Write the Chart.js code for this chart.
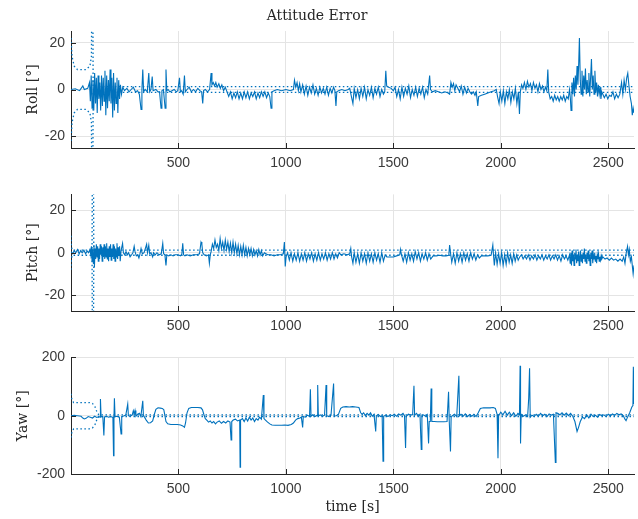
<!DOCTYPE html>
<html>
<head>
<meta charset="utf-8">
<script src="https://cdn.jsdelivr.net/npm/chart.js@4.4.1/dist/chart.umd.min.js"></script>
<style>
  html, body { margin: 0; padding: 0; background: #fff; }
  body { width: 638px; height: 519px; position: relative; overflow: hidden; }
  .panel { position: absolute; left: 0; width: 638px; }
</style>
</head>
<body>
<div class="panel" style="top:0;height:170px"><canvas id="rollChart" width="638" height="170"></canvas></div>
<div class="panel" style="top:180px;height:153px"><canvas id="pitchChart" width="638" height="153"></canvas></div>
<div class="panel" style="top:343px;height:176px"><canvas id="yawChart" width="638" height="176"></canvas></div>
<script>
// tick labels
const timeTicks = [500, 1000, 1500, 2000, 2500];
const rollTicks = [-20, 0, 20];
const pitchTicks = [-20, 0, 20];
const yawTicks = [-200, 0, 200];

// [time s, error deg]
const rollError = [[0,0],[20,0.3],[40,-0.5],[55,1.5],[62,0],[78,0.5],[86,3],[90,-5],[94,6],[98,-8],[102,4],[106,-9],[110,7],[114,-6],[118,5],[122,-10],[126,6],[130,-4],[134,3],[138,-9],[142,6],[146,-7],[150,5],[154,-5],[158,8],[162,-11],[166,6],[170,-8],[174,4],[178,-5],[182,8.5],[186,-6],[190,5],[194,-12],[198,7],[202,-9],[206,3],[210,-6],[214,5],[218,-10],[222,4],[226,-4],[230,2],[235,-2],[241,1],[249,-0.5],[260,0.5],[270,-1],[280,0],[290,1],[300,-1],[310,-0.5],[318,-2],[326,-8.5],[330,0],[334,8.5],[338,-1],[345,0],[355,-1],[362,7],[366,-1],[372,0],[378,5.5],[382,-0.5],[395,0],[405,-1],[412,-1],[419,-8],[423,-0.5],[430,0],[438,-8],[442,8.5],[446,-0.5],[452,0],[460,-1],[470,-0.5],[480,0],[490,-1],[497,-0.5],[505,5],[509,-1],[515,-0.5],[522,-2],[528,6],[532,-1],[540,0],[550,1],[560,-1],[570,0],[580,-1],[590,0.5],[600,-0.5],[608,-1],[613,-6],[617,-0.5],[625,0],[635,-1],[645,0],[652,7],[656,2],[662,3],[668,1.5],[674,3],[680,1],[688,2.5],[695,0.5],[702,2],[710,-0.5],[718,1],[726,-1],[734,-3],[742,-1],[750,-4],[758,-1.5],[766,-3.5],[774,-1],[782,-4],[790,-1.5],[798,-4],[806,-1],[814,-3.5],[822,-1],[830,-4],[838,-1.5],[846,-3],[854,-1],[862,-4],[870,-1.5],[878,-3.5],[886,-1],[894,-3],[902,-1],[910,-3.5],[918,-1.5],[925,-3],[931,-8],[935,-1],[945,-0.5],[960,0],[980,-0.5],[1000,0],[1020,-0.5],[1035,0],[1040,4],[1046,1],[1052,3],[1058,-0.5],[1064,2.5],[1070,-1],[1078,2],[1086,-2],[1094,1.5],[1102,-2.5],[1110,1],[1118,-1.5],[1126,2],[1134,-2],[1142,0.5],[1150,-2.5],[1158,1],[1166,-1.5],[1174,0.5],[1182,-2],[1190,1],[1198,-2.5],[1206,0.5],[1214,-1.5],[1222,1],[1228,-0.5],[1233,-7],[1237,-1],[1245,-0.5],[1260,0],[1275,-0.5],[1290,0],[1297,0.5],[1305,-3],[1312,-6],[1318,0.5],[1326,-3.5],[1334,0],[1342,-4],[1350,0.5],[1358,-3],[1366,1],[1374,-4],[1382,0],[1390,-2.5],[1398,1],[1406,-3.5],[1414,0.5],[1422,-2],[1430,1],[1438,-3],[1446,0],[1454,-2],[1460,-1],[1465,8],[1469,1.5],[1478,1],[1490,0.5],[1500,-0.5],[1508,1],[1516,-3],[1524,0],[1532,-4],[1540,1],[1548,-3],[1556,0.5],[1564,-2],[1572,1.5],[1580,-3.5],[1588,0],[1596,-2.5],[1604,1],[1612,-3],[1620,0.5],[1628,-2],[1636,1],[1644,-3.5],[1652,0],[1660,-2],[1669,6],[1673,0],[1682,-1],[1695,-0.5],[1710,-1],[1725,-1.5],[1740,-1],[1755,-1.5],[1762,-2],[1768,3],[1774,1],[1780,2.5],[1786,-0.5],[1792,2],[1800,0.5],[1808,-1],[1816,1.5],[1824,-2],[1832,1],[1840,-1.5],[1848,0.5],[1856,-1],[1864,-2],[1872,-1],[1880,-2.5],[1886,-1],[1893,-7],[1897,-3],[1910,-2.5],[1925,-2],[1940,-1.5],[1955,-1],[1970,-0.5],[1979,0],[1985,-3],[1992,-6],[1998,-1],[2005,-5],[2012,-0.5],[2019,-6],[2026,-1],[2033,-4],[2040,0],[2047,-5.5],[2054,-1],[2061,-4],[2068,0.5],[2075,-6],[2082,-1],[2087,-10.5],[2091,-1],[2097,2],[2103,0.5],[2110,3],[2117,0],[2124,3.5],[2131,1],[2138,2.5],[2145,-0.5],[2152,3],[2159,0.5],[2166,2],[2173,-1],[2180,2.5],[2187,0],[2194,1.5],[2201,-1],[2208,1],[2214,-0.5],[2219,8.5],[2223,-1],[2230,-4],[2237,-3],[2244,-5],[2251,-2.5],[2258,-4.5],[2265,-3],[2272,-5],[2279,-3],[2286,-4.5],[2293,-2.5],[2300,-5],[2307,-3],[2314,-4],[2320,0],[2324,-4],[2327,-9],[2331,3],[2335,-2],[2339,5],[2343,-3],[2347,6],[2351,0],[2355,10],[2359,2],[2363,12],[2366,22],[2370,4],[2374,-2],[2378,8],[2382,-3],[2386,6],[2390,0],[2394,9],[2398,-2],[2402,4],[2406,-1],[2410,7],[2414,-3],[2418,5],[2422,13],[2426,0],[2430,6],[2434,-2],[2438,8],[2442,-1],[2446,3],[2450,-3],[2454,2],[2458,-2],[2462,1],[2466,-4],[2470,-1],[2475,-2],[2482,-3.5],[2490,-2],[2498,-4],[2506,-2.5],[2514,-3],[2522,-1],[2530,-4],[2538,-2],[2546,-3.5],[2554,-2],[2562,3],[2568,-2],[2574,4],[2580,0],[2586,5],[2591,7],[2596,2],[2602,-3],[2608,-6],[2612,-11],[2616,-8],[2620,-10]];

const pitchError = [[0,0.5],[8,-0.5],[15,1],[22,0],[30,1.5],[38,-0.5],[45,1],[52,0],[60,1.2],[68,-0.5],[75,0.8],[82,0],[88,1.5],[92,-1],[95,3],[98,-4],[101,2],[104,-5],[107,3.5],[109,-7],[112,2],[115,-3],[118,4],[121,-2],[124,3],[127,-4],[130,2],[133,-3],[136,4],[139,-1],[142,3],[145,-4],[148,2.5],[151,-2],[154,4],[157,-3],[160,3],[163,-2],[166,4.5],[169,-3],[172,2],[175,-4],[178,3],[181,-2],[184,4],[187,-3.5],[190,2],[193,-2],[196,4],[199,-3],[202,3],[205,-4],[208,2],[211,-2],[214,4.5],[217,-3],[220,2.5],[223,-1.5],[226,3],[229,-4],[233,1],[240,4.4],[244,0],[250,-1],[256,0.5],[262,-1],[268,0],[275,-2],[282,-1],[288,0],[294,3],[298,0.5],[304,-1.5],[310,-1],[316,-2.5],[320,-1],[326,2],[332,-0.5],[340,0],[352,4],[356,0],[362,3.5],[366,-0.5],[372,0],[380,-2],[384,0],[392,-1],[400,0],[410,-1],[420,-0.5],[427,4.4],[431,-0.5],[437,-1],[442,-6],[446,-1],[455,-1.5],[465,-1],[475,-1.5],[485,-1],[497,-1],[510,-1.5],[516,-0.5],[520,4.4],[524,-1],[530,-1.5],[540,-1],[555,-1.5],[570,-1],[585,-1],[598,-0.5],[605,5],[609,4],[613,0],[620,-1],[630,-1.5],[640,-1],[644,-5],[648,-1],[652,0.5],[658,4],[664,2],[670,6],[676,2.5],[682,4],[688,1],[694,6.7],[700,2],[706,5],[712,1],[718,6],[724,1.5],[730,5],[736,0.5],[742,4.5],[748,0],[754,5],[760,0],[766,4],[772,-0.5],[778,3.5],[784,-1],[790,3],[796,-1],[802,3.5],[808,-1],[814,2.5],[820,-1.5],[826,2],[832,-1],[838,2],[844,-1.5],[850,1.5],[856,-1],[862,1],[868,-1.5],[874,1.5],[880,-1],[886,1],[892,-1.5],[900,0],[915,-1],[930,-1],[945,-1.5],[960,-1],[975,-1],[988,-0.5],[993,5],[997,-6.5],[1001,-2],[1008,0],[1016,-3.5],[1024,0],[1032,-4],[1040,-0.5],[1048,-3.5],[1056,0],[1064,-4],[1072,-0.5],[1080,-3.5],[1088,0],[1096,-4],[1104,-0.5],[1112,-3],[1120,0],[1128,-4],[1136,-0.5],[1144,-3.5],[1152,0],[1160,-3.5],[1168,-0.5],[1176,-3],[1184,0],[1192,-3.5],[1200,-0.5],[1208,-3],[1216,0],[1224,-3],[1232,-0.5],[1240,-2.5],[1248,0],[1256,-1],[1270,-0.5],[1285,-1],[1297,-0.5],[1302,2],[1306,-2],[1312,-5],[1318,0],[1326,-4.5],[1334,-0.5],[1342,-5],[1350,0],[1358,-4],[1366,-0.5],[1374,-5],[1382,0],[1390,-4],[1398,-0.5],[1406,-4.5],[1414,0],[1422,-3.5],[1430,-0.5],[1438,-4.5],[1446,0],[1454,-4],[1462,-1],[1470,-2],[1485,-2],[1500,-2],[1515,-1.5],[1530,-1],[1533,1.5],[1538,-1],[1546,-4],[1554,-0.5],[1562,-4.5],[1570,0],[1578,-3.5],[1586,-0.5],[1594,-4],[1602,0.5],[1610,-3],[1618,0],[1626,-4],[1634,-0.5],[1642,-3],[1650,0],[1658,-3.5],[1666,-0.5],[1674,-3],[1685,-1.5],[1700,-1.5],[1715,-1.2],[1730,-1.5],[1745,-1.5],[1758,-1.2],[1762,3.6],[1766,0],[1772,-4.5],[1780,-0.5],[1788,-5],[1796,0],[1804,-4],[1812,-0.5],[1820,-4.5],[1828,0],[1836,-3.5],[1844,-0.5],[1852,-4],[1860,0],[1868,-3],[1876,-0.5],[1884,-3.5],[1892,-1],[1900,-2.5],[1910,-1.5],[1925,-1.5],[1940,-1.5],[1955,-1.2],[1963,3.6],[1966,-1],[1970,-6],[1976,0],[1983,-5.5],[1990,-0.5],[1997,-5],[2004,0],[2011,-6],[2018,-1],[2025,-5.5],[2032,0],[2039,-4.5],[2046,-1],[2053,-5],[2060,-0.5],[2067,-4],[2074,-1],[2081,-3.5],[2088,-2],[2096,-1],[2104,-3],[2112,-1.5],[2120,-3],[2128,-1],[2136,-3.5],[2144,-1.5],[2152,-3],[2160,-1],[2168,-3.5],[2176,-1.5],[2184,-3],[2192,-1],[2200,-3.5],[2208,-1.5],[2216,-3],[2224,-1],[2232,-3.5],[2240,-1.5],[2248,-3],[2256,-1],[2264,-3.5],[2272,-1.5],[2280,-4],[2288,-1],[2296,-3],[2304,-1.5],[2312,-3.5],[2320,-1],[2323,-5],[2326,0],[2329,-6],[2332,1],[2335,-4],[2338,-1],[2341,-6],[2344,0],[2347,-3],[2350,1.5],[2353,-5],[2356,-1],[2359,-4],[2362,0.5],[2365,-6],[2368,-2],[2371,1],[2374,-4],[2377,-1],[2380,-5],[2383,0],[2386,-3],[2389,2],[2392,-4],[2395,-1],[2398,-5],[2401,0],[2404,-3],[2407,1],[2410,-4],[2413,-1],[2416,-6],[2419,0],[2422,-3],[2425,1],[2428,-5],[2431,-1],[2434,-3],[2437,0],[2440,-4],[2443,-1.5],[2446,-5],[2449,-1],[2452,-3],[2455,-0.5],[2458,-4],[2461,-2],[2464,-3.5],[2467,-1.5],[2470,-3],[2475,-2],[2485,-3],[2495,-2.5],[2505,-3.5],[2515,-2.5],[2525,-3.5],[2535,-3],[2545,-4],[2555,-3],[2565,-4],[2572,-2],[2578,-5],[2584,0],[2590,3],[2594,-1],[2598,1.5],[2603,-4],[2608,-2],[2612,-6],[2616,-10],[2620,-6]];

const yawError = [[0,0],[15,1],[30,0],[47,-2],[55,-8],[62,-11],[70,-9],[80,-3],[90,-5],[100,-8],[110,-2],[120,-6],[130,-3],[135,-5],[137,57],[140,-4],[148,-3],[153,-68],[156,-4],[165,-2],[175,-5],[185,-3],[195,-6],[198,-137],[200,-5],[202,60],[205,-4],[215,-2],[225,-5],[233,-63],[236,-3],[245,-1],[255,2],[264,40],[267,0],[275,-2],[285,3],[290,17],[294,5],[298,18],[302,-2],[310,5],[318,8],[325,-3],[334,51],[337,0],[342,-5],[350,-15],[360,-25],[370,-24],[380,-18],[388,5],[395,22],[405,27],[415,26],[425,25],[432,20],[437,0],[442,-20],[450,-28],[465,-30],[480,-30],[495,-30],[510,-32],[520,-35],[528,-40],[533,-25],[540,10],[548,25],[560,28],[575,28],[590,28],[605,27],[612,20],[618,5],[625,-10],[632,-15],[640,-22],[648,-18],[656,-25],[664,-20],[672,-28],[680,-22],[690,-18],[700,-26],[710,-20],[720,-25],[730,-18],[740,-22],[745,-83],[748,-20],[755,-15],[765,-12],[775,-18],[785,-15],[787,-177],[789,-15],[798,-10],[806,-20],[814,-8],[822,-18],[830,-5],[838,-15],[846,-8],[854,-20],[862,-10],[870,-15],[878,-5],[886,-12],[895,71],[898,-10],[905,-15],[915,-22],[925,-28],[935,-32],[950,-33],[965,-33],[980,-33],[995,-32],[1010,-33],[1025,-30],[1035,-25],[1045,-15],[1055,-10],[1065,-8],[1072,-5],[1078,-40],[1081,-3],[1090,-5],[1100,2],[1110,-3],[1114,91],[1117,-2],[1125,3],[1135,-3],[1145,1],[1148,105],[1151,-1],[1160,3],[1170,-2],[1180,2],[1187,105],[1190,0],[1200,-3],[1210,2],[1222,110],[1225,-1],[1235,0],[1245,5],[1255,25],[1265,30],[1280,31],[1295,30],[1310,31],[1325,30],[1340,28],[1348,10],[1355,5],[1362,10],[1370,0],[1378,8],[1386,2],[1394,10],[1402,-2],[1410,5],[1418,-54],[1421,0],[1430,4],[1440,-3],[1448,0],[1452,-156],[1455,-2],[1465,2],[1475,-3],[1485,3],[1495,0],[1505,5],[1515,-2],[1525,6],[1535,2],[1545,8],[1552,0],[1557,-111],[1560,-2],[1570,5],[1580,2],[1590,4],[1596,103],[1599,2],[1608,8],[1616,-2],[1624,5],[1630,-116],[1633,0],[1640,3],[1650,-2],[1658,4],[1664,-95],[1667,-20],[1672,-20],[1676,93],[1679,-20],[1690,-20],[1705,-21],[1720,-21],[1735,-21],[1750,-20],[1757,82],[1760,-15],[1766,-123],[1769,-5],[1775,0],[1785,5],[1795,-3],[1805,137],[1808,0],[1815,5],[1825,-2],[1835,6],[1845,-3],[1855,4],[1865,-2],[1875,5],[1885,-3],[1895,10],[1905,25],[1920,27],[1935,27],[1950,27],[1965,28],[1975,25],[1983,5],[1987,-146],[1990,0],[2000,12],[2010,3],[2020,15],[2030,2],[2040,12],[2050,0],[2060,10],[2070,-2],[2080,8],[2087,3],[2090,171],[2092,-95],[2095,5],[2105,-2],[2115,3],[2125,-3],[2130,60],[2134,163],[2137,-5],[2145,2],[2155,-3],[2165,5],[2175,-2],[2185,8],[2195,0],[2205,5],[2215,-3],[2225,6],[2235,2],[2245,5],[2254,-160],[2257,10],[2265,8],[2275,3],[2285,10],[2295,2],[2305,9],[2315,0],[2325,8],[2335,-2],[2345,-20],[2355,-54],[2362,-40],[2370,-20],[2380,-5],[2390,-10],[2400,3],[2410,-8],[2420,5],[2430,-3],[2440,2],[2450,-5],[2460,4],[2470,0],[2480,3],[2490,-3],[2500,5],[2510,0],[2520,6],[2530,1],[2540,8],[2550,3],[2560,6],[2570,0],[2578,-12],[2583,-17],[2590,-5],[2600,10],[2610,30],[2615,35],[2617,168],[2620,40]];

// [time s, +/- bound deg] (dotted envelope)
const rollBound = [[0,22],[5,14],[15,10],[30,8.5],[70,8.5],[88,10],[95,14],[98,60],[101,60],[103,1.2],[2620,1.2]];
const pitchBound = [[0,8],[2,3],[5,1.2],[98,1.2],[100,60],[104,60],[106,1.2],[2620,1.2]];
const yawBound = [[0,75],[3,60],[12,45],[85,45],[100,42],[112,30],[122,10],[130,3],[2620,3]];

const BLUE = '#0072BD';
const TICK_FONT = { family: '"Liberation Sans", Arial, sans-serif', size: 14 };
const SERIF = { family: '"DejaVu Serif", serif', size: 14, weight: 'normal' };

const innerTicks = {
  id: 'innerTicks',
  afterDraw(chart) {
    const { ctx, chartArea: a, scales: { x, y } } = chart;
    ctx.save();
    ctx.strokeStyle = '#262626';
    ctx.lineWidth = 1;
    ctx.beginPath();
    x.ticks.forEach(t => {
      const p = Math.round(x.getPixelForValue(t.value)) + 0.5;
      ctx.moveTo(p, a.bottom); ctx.lineTo(p, a.bottom - 5);
    });
    y.ticks.forEach(t => {
      const p = Math.round(y.getPixelForValue(t.value)) + 0.5;
      ctx.moveTo(a.left, p); ctx.lineTo(a.left + 5, p);
    });
    ctx.stroke();
    ctx.restore();
  }
};

function toPoints(arr, sign = 1) {
  return arr.map(([t, v]) => ({ x: t, y: sign * v }));
}

function makePanel(id, cfg) {
  const dotted = { borderColor: BLUE, borderWidth: 1.3, borderDash: [1.5, 2.5], pointRadius: 0, tension: 0 };
  return new Chart(document.getElementById(id), {
    type: 'line',
    data: {
      datasets: [
        { ...dotted, data: toPoints(cfg.bound) },
        { ...dotted, data: toPoints(cfg.bound, -1) },
        { data: toPoints(cfg.series), borderColor: BLUE, borderWidth: 1.1, pointRadius: 0, tension: 0 }
      ]
    },
    options: {
      responsive: false,
      animation: false,
      devicePixelRatio: 1,
      layout: { padding: { top: cfg.padTop, right: 4, left: 0, bottom: 0 } },
      plugins: {
        legend: { display: false },
        tooltip: { enabled: false },
        title: cfg.title
          ? { display: true, text: cfg.title, font: SERIF, color: '#262626', padding: { top: 7.6, bottom: 6.6 } }
          : { display: false }
      },
      scales: {
        x: {
          type: 'linear', min: 0, max: 2620,
          afterBuildTicks: s => { s.ticks = timeTicks.map(v => ({ value: v })); },
          afterFit: s => { s.height = cfg.xHeight; },
          ticks: { autoSkip: false, maxRotation: 0, padding: 7, color: '#3a3a3a', font: TICK_FONT, callback: v => String(v) },
          grid: { drawTicks: false, color: '#e4e4e4' },
          border: { color: '#262626', width: 1 },
          title: cfg.xTitle
            ? { display: true, text: cfg.xTitle, font: SERIF, color: '#262626', padding: { top: 0, bottom: 3 } }
            : { display: false }
        },
        y: {
          min: cfg.yMin, max: cfg.yMax,
          afterBuildTicks: s => { s.ticks = cfg.yTicks.map(v => ({ value: v })); },
          afterFit: s => { s.width = 71; },
          ticks: { padding: 6, color: '#3a3a3a', font: TICK_FONT, callback: v => String(v) },
          grid: { drawTicks: false, color: '#e4e4e4' },
          border: { color: '#262626', width: 1 },
          title: { display: true, text: cfg.yTitle, font: SERIF, color: '#262626', padding: { top: cfg.yTitlePad, bottom: 0 } }
        }
      }
    },
    plugins: [innerTicks]
  });
}

makePanel('rollChart', {
  series: rollError, bound: rollBound, yTicks: rollTicks, yMin: -25, yMax: 25,
  yTitle: 'Roll [°]', yTitlePad: 25, title: 'Attitude Error', padTop: 0, xHeight: 22
});
makePanel('pitchChart', {
  series: pitchError, bound: pitchBound, yTicks: pitchTicks, yMin: -27.5, yMax: 27.5,
  yTitle: 'Pitch [°]', yTitlePad: 25, padTop: 14, xHeight: 22
});
makePanel('yawChart', {
  series: yawError, bound: yawBound, yTicks: yawTicks, yMin: -200, yMax: 200,
  yTitle: 'Yaw [°]', yTitlePad: 15, padTop: 14, xHeight: 45, xTitle: 'time [s]'
});
</script>
</body>
</html>
